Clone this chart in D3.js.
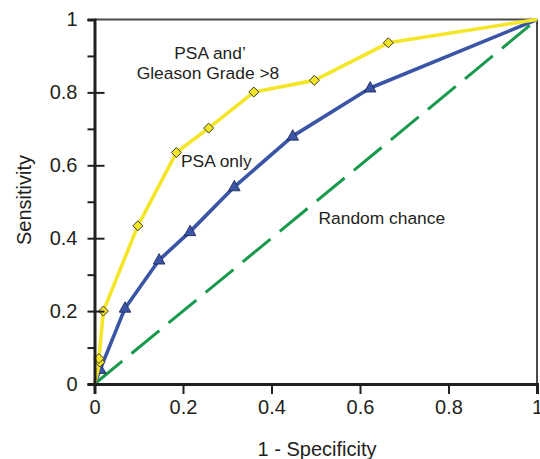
<!DOCTYPE html>
<html>
<head>
<meta charset="utf-8">
<script src="https://cdn.jsdelivr.net/npm/d3@7"></script>
<style>
  body { margin: 0; background: #fff; }
  svg { display: block; font-family: "Liberation Sans", Arial, sans-serif; }
  .axis path, .axis line { stroke: #231f20; }
  .axis text { fill: #231f20; font-size: 20px; }
</style>
</head>
<body>
<div id="vis"></div>
<script>
'use strict'

// ROC curve values
const psaGleasonX = [0, 0.012, 0.01, 0.02, 0.098, 0.185, 0.258, 0.36, 0.497, 0.664, 1]
const psaGleasonY = [0, 0.06, 0.07, 0.2, 0.434, 0.635, 0.702, 0.801, 0.833, 0.936, 1]
const psaOnlyX = [0, 0.013, 0.069, 0.146, 0.216, 0.316, 0.448, 0.623, 1]
const psaOnlyY = [0, 0.04, 0.208, 0.34, 0.418, 0.541, 0.68, 0.812, 1]
const chanceX = [0, 1]
const chanceY = [0, 1]
const majorTicks = [0, 0.2, 0.4, 0.6, 0.8, 1]
const minorTicks = [0.1, 0.3, 0.5, 0.7, 0.9]
const labels = ["PSA and\u2019", "Gleason Grade >8", "PSA only", "Random chance"]

const width = 540, height = 459
const svg = d3.select("#vis").append("svg")
    .attr("width", width)
    .attr("height", height)

const x = d3.scaleLinear().domain([0, 1]).range([94.5, 537])
const y = d3.scaleLinear().domain([0, 1]).range([384, 19.5])
const fmt = d3.format("~g")

function pts(xs, ys) {
  return xs.map((v, i) => [v, ys[i]])
}

const line = d3.line()
    .x(d => x(d[0]))
    .y(d => y(d[1]))

// frame top and right
svg.append("line")
    .attr("x1", x(0)).attr("x2", x(1))
    .attr("y1", y(1)).attr("y2", y(1))
    .attr("stroke", "#4a4a4a").attr("stroke-width", 2)
svg.append("line")
    .attr("x1", x(1)).attr("x2", x(1))
    .attr("y1", y(1)).attr("y2", y(0))
    .attr("stroke", "#4a4a4a").attr("stroke-width", 2)

// random chance
svg.append("path")
    .datum(pts(chanceX, chanceY))
    .attr("d", line)
    .attr("fill", "none")
    .attr("stroke", "#16994a")
    .attr("stroke-width", 3)
    .attr("stroke-dasharray", "36,12")

// PSA only
svg.append("path")
    .datum(pts(psaOnlyX, psaOnlyY))
    .attr("d", line)
    .attr("fill", "none")
    .attr("stroke", "#3a54a6")
    .attr("stroke-width", 3.6)
    .attr("stroke-linejoin", "round")

svg.append("g")
  .selectAll("path")
  .data(pts(psaOnlyX, psaOnlyY).slice(1, -1))
  .enter().append("path")
    .attr("d", "M0,-6.5L5.8,4L-5.8,4Z")
    .attr("transform", d => "translate(" + x(d[0]) + "," + y(d[1]) + ")")
    .attr("fill", "#3a54a6")
    .attr("stroke", "#1c2550")
    .attr("stroke-width", 0.8)

// PSA and Gleason
svg.append("path")
    .datum(pts(psaGleasonX, psaGleasonY))
    .attr("d", line)
    .attr("fill", "none")
    .attr("stroke", "#f4e626")
    .attr("stroke-width", 3.6)
    .attr("stroke-linejoin", "round")

svg.append("g")
  .selectAll("path")
  .data(pts(psaGleasonX, psaGleasonY).slice(1, -1))
  .enter().append("path")
    .attr("d", "M0,-5L5,0L0,5L-5,0Z")
    .attr("transform", d => "translate(" + x(d[0]) + "," + y(d[1]) + ")")
    .attr("fill", "#f4e626")
    .attr("stroke", "#3a3a2a")
    .attr("stroke-width", 1)

// axes
const xAxis = svg.append("g")
    .attr("class", "axis")
    .attr("transform", "translate(0," + y(0) + ")")
    .call(d3.axisBottom(x).tickValues(majorTicks).tickFormat(fmt).tickSizeOuter(0).tickSize(10).tickPadding(6))
xAxis.select(".domain").attr("stroke-width", 3)
xAxis.selectAll(".tick line").attr("stroke-width", 2)

const yAxis = svg.append("g")
    .attr("class", "axis")
    .attr("transform", "translate(" + x(0) + ",0)")
    .call(d3.axisLeft(y).tickValues(majorTicks).tickFormat(fmt).tickSizeOuter(0).tickSize(7).tickPadding(10))
yAxis.select(".domain").attr("stroke-width", 3)
yAxis.selectAll(".tick line").attr("stroke-width", 2)

const yInner = svg.append("g")
    .attr("class", "axis")
    .attr("transform", "translate(" + x(0) + ",0)")
    .call(d3.axisRight(y).tickValues(majorTicks.slice(1, -1)).tickFormat("").tickSizeOuter(0).tickSize(10))
yInner.select(".domain").remove()
yInner.selectAll(".tick line").attr("stroke-width", 2)

const yMinor = svg.append("g")
    .attr("class", "axis")
    .attr("transform", "translate(" + x(0) + ",0)")
    .call(d3.axisLeft(y).tickValues(minorTicks).tickFormat("").tickSizeOuter(0).tickSize(7))
yMinor.select(".domain").remove()
yMinor.selectAll(".tick line").attr("stroke-width", 2)

// axis titles
svg.append("text")
    .attr("x", 317).attr("y", 456)
    .attr("text-anchor", "middle")
    .attr("font-size", 20)
    .attr("fill", "#231f20")
    .text("1 - Specificity")

svg.append("text")
    .attr("transform", "translate(31,200) rotate(-90)")
    .attr("text-anchor", "middle")
    .attr("font-size", 20)
    .attr("fill", "#231f20")
    .text("Sensitivity")

// series labels
const labelG = svg.append("g")
    .attr("font-size", 17.4)
    .attr("fill", "#231f20")
labelG.append("text").attr("x", 210).attr("y", 58.5).attr("text-anchor", "middle").text(labels[0])
labelG.append("text").attr("x", 208).attr("y", 78.5).attr("text-anchor", "middle").text(labels[1])
labelG.append("text").attr("x", 181).attr("y", 166.5).text(labels[2])
labelG.append("text").attr("x", 318.5).attr("y", 223.5).text(labels[3])
</script>
</body>
</html>
